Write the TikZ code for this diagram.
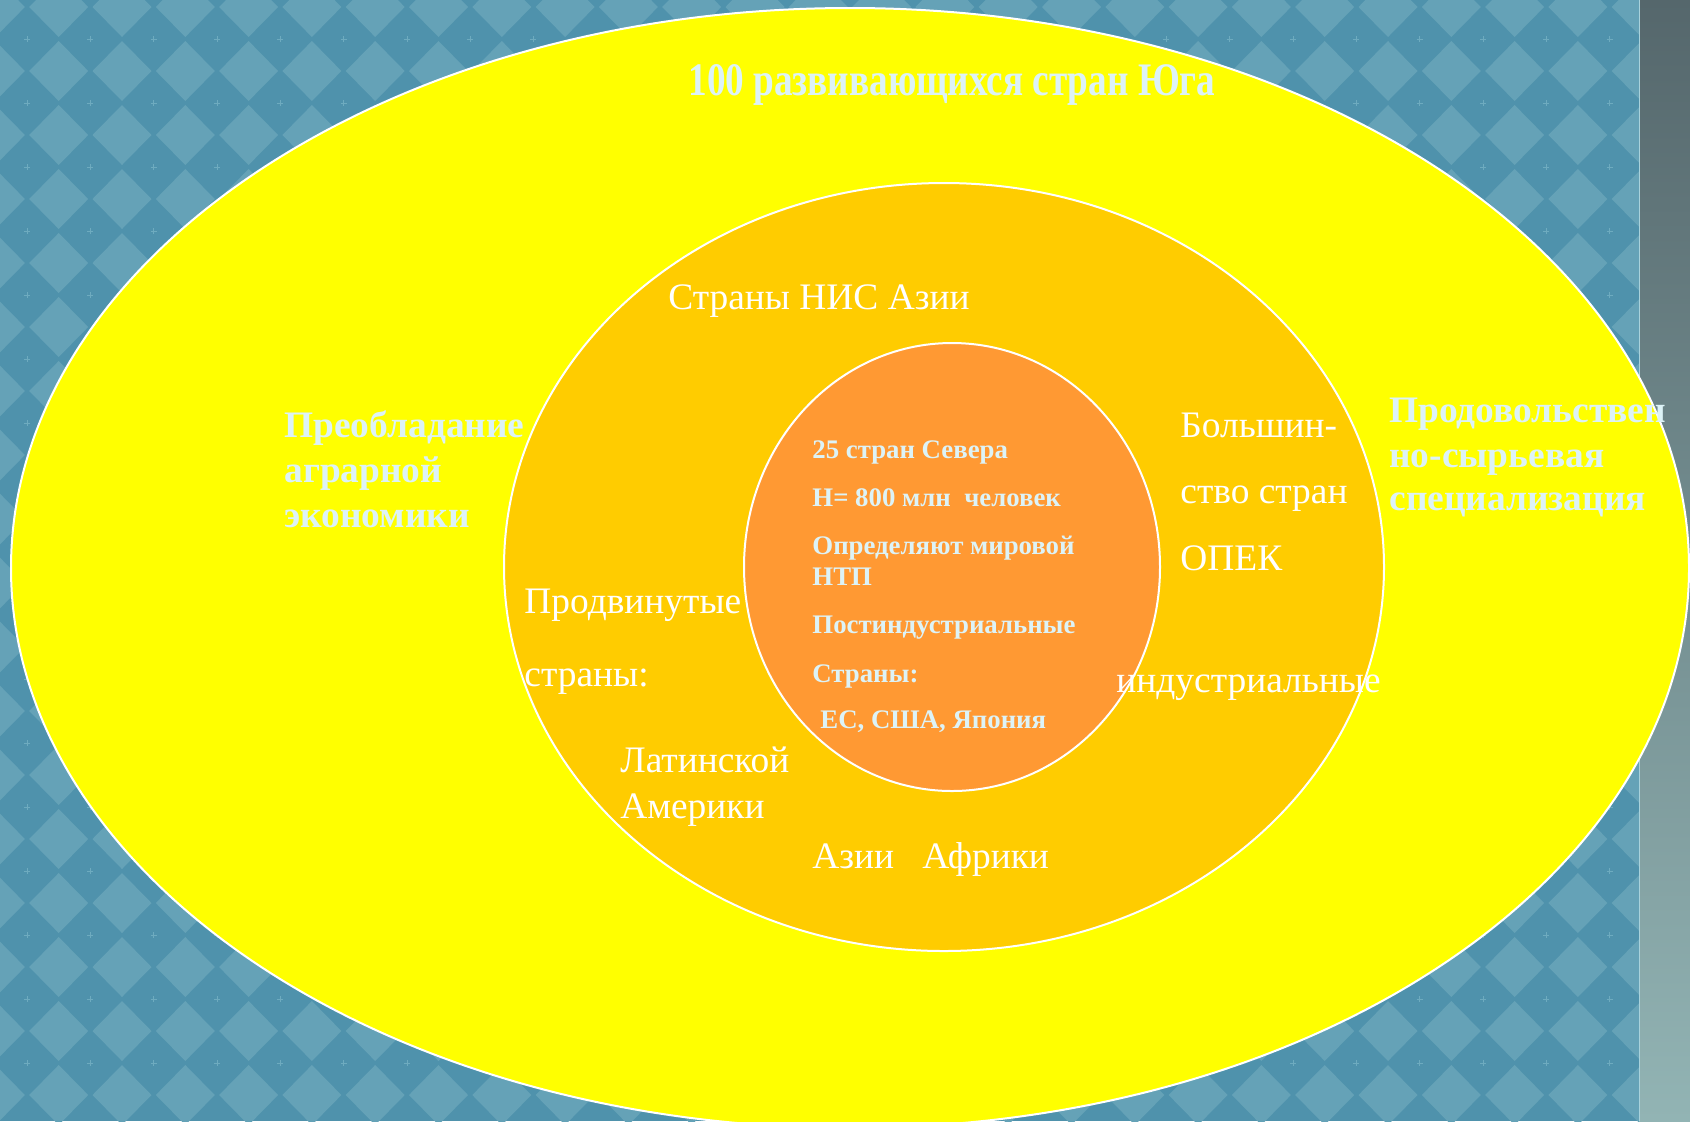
\documentclass[tikz,border=0pt]{standalone}
\usepackage{fontspec}
\setmainfont{Liberation Serif}
\usepackage{graphicx}
\definecolor{bgdark}{HTML}{4F92AC}
\definecolor{bglight}{HTML}{65A2B7}
\definecolor{bgcross}{HTML}{6EABBF}
\definecolor{yel}{HTML}{FFFF00}
\definecolor{gold}{HTML}{FFCC00}
\definecolor{orng}{HTML}{FF9933}
\definecolor{pale}{HTML}{DDF3F7}
\definecolor{stripTop}{HTML}{55676C}
\definecolor{stripBot}{HTML}{92B4B4}
\definecolor{stripLine}{HTML}{A9D2DC}
\begin{document}
\begin{tikzpicture}[x=0.5pt,y=-0.5pt,
  ring/.style={draw=white,line width=1pt},
  boldbig/.style={text=pale,font=\fontsize{18.7}{22}\selectfont\bfseries,inner sep=0pt,anchor=base west},
  boldsmall/.style={text=pale,font=\fontsize{13.4}{16}\selectfont\bfseries,inner sep=0pt,anchor=base west},
  plaintxt/.style={text=white,font=\fontsize{18.7}{22}\selectfont,inner sep=0pt,anchor=base west},
]
\useasboundingbox (0,0) rectangle (1690,1121);
% background pattern
\fill[bgdark] (0,0) rectangle (1690,1121);
\foreach \i in {-1,...,27} {
  \foreach \j in {-1,...,18} {
    \fill[bglight] ({58.7+63.3*\i},{71+64*\j}) +(-29.5,0) -- +(0,-30) -- +(29.5,0) -- +(0,30) -- cycle;
    \draw[bgcross,line width=0.3pt] ({27+63.3*\i},{39+64*\j}) +(-3,0) -- +(3,0) +(0,-3) -- +(0,3);
  }
}
% right strip
\shade[top color=stripTop,bottom color=stripBot] (1639,0) rectangle (1690,1121);
\draw[stripLine,line width=0.6pt] (1639.5,0) -- (1639.5,1121);
% rings
\draw[ring,fill=yel] (850,568) ellipse [x radius=839, y radius=560];
\draw[ring,fill=gold] (944,567) ellipse [x radius=440, y radius=384];
\draw[ring,fill=orng] (952,567) ellipse [x radius=208, y radius=224];
% title of outer ring
\node[text=pale,inner sep=0pt,anchor=base west] (south) at (688,95)
  {\resizebox{263.5pt}{15.5pt}{\bfseries 100 развивающихся стран Юга}};
% left / right bold texts
\node[boldbig] (agr1) at (284,437) {Преобладание};
\node[boldbig] (agr2) at (284,482) {аграрной};
\node[boldbig] (agr3) at (284,527) {экономики};
\node[boldbig] (food1) at (1389,422) {Продовольствен};
\node[boldbig] (food2) at (1389,467) {но-сырьевая};
\node[boldbig] (food3) at (1389,510) {специализация};
% middle ring texts
\node[plaintxt] (nis) at (668,309) {Страны НИС Азии};
\node[plaintxt] (opec1) at (1180,437) {Большин-};
\node[plaintxt] (opec2) at (1180,503) {ство стран};
\node[plaintxt] (opec3) at (1180,570) {ОПЕК};
\node[plaintxt] (ind) at (1116,692) {индустриальные};
\node[plaintxt] (adv1) at (524,613) {Продвинутые};
\node[plaintxt] (adv2) at (524,686) {страны:};
\node[plaintxt] (lat1) at (620,772) {Латинской};
\node[plaintxt] (lat2) at (620,818) {Америки};
\node[plaintxt] (asaf) at (812,868) {Азии\ \ \ Африки};
% inner circle texts
\node[boldsmall] (n1) at (812,458) {25 стран Севера};
\node[boldsmall] (n2) at (812,506) {Н= 800 млн\ \ человек};
\node[boldsmall] (n3) at (812,554) {Определяют мировой};
\node[boldsmall] (n4) at (812,585) {НТП};
\node[boldsmall] (n5) at (812,633) {Постиндустриальные};
\node[boldsmall] (n6) at (812,682) {Страны:};
\node[boldsmall] (n7) at (820,728) {ЕС, США, Япония};
\end{tikzpicture}
\end{document}
